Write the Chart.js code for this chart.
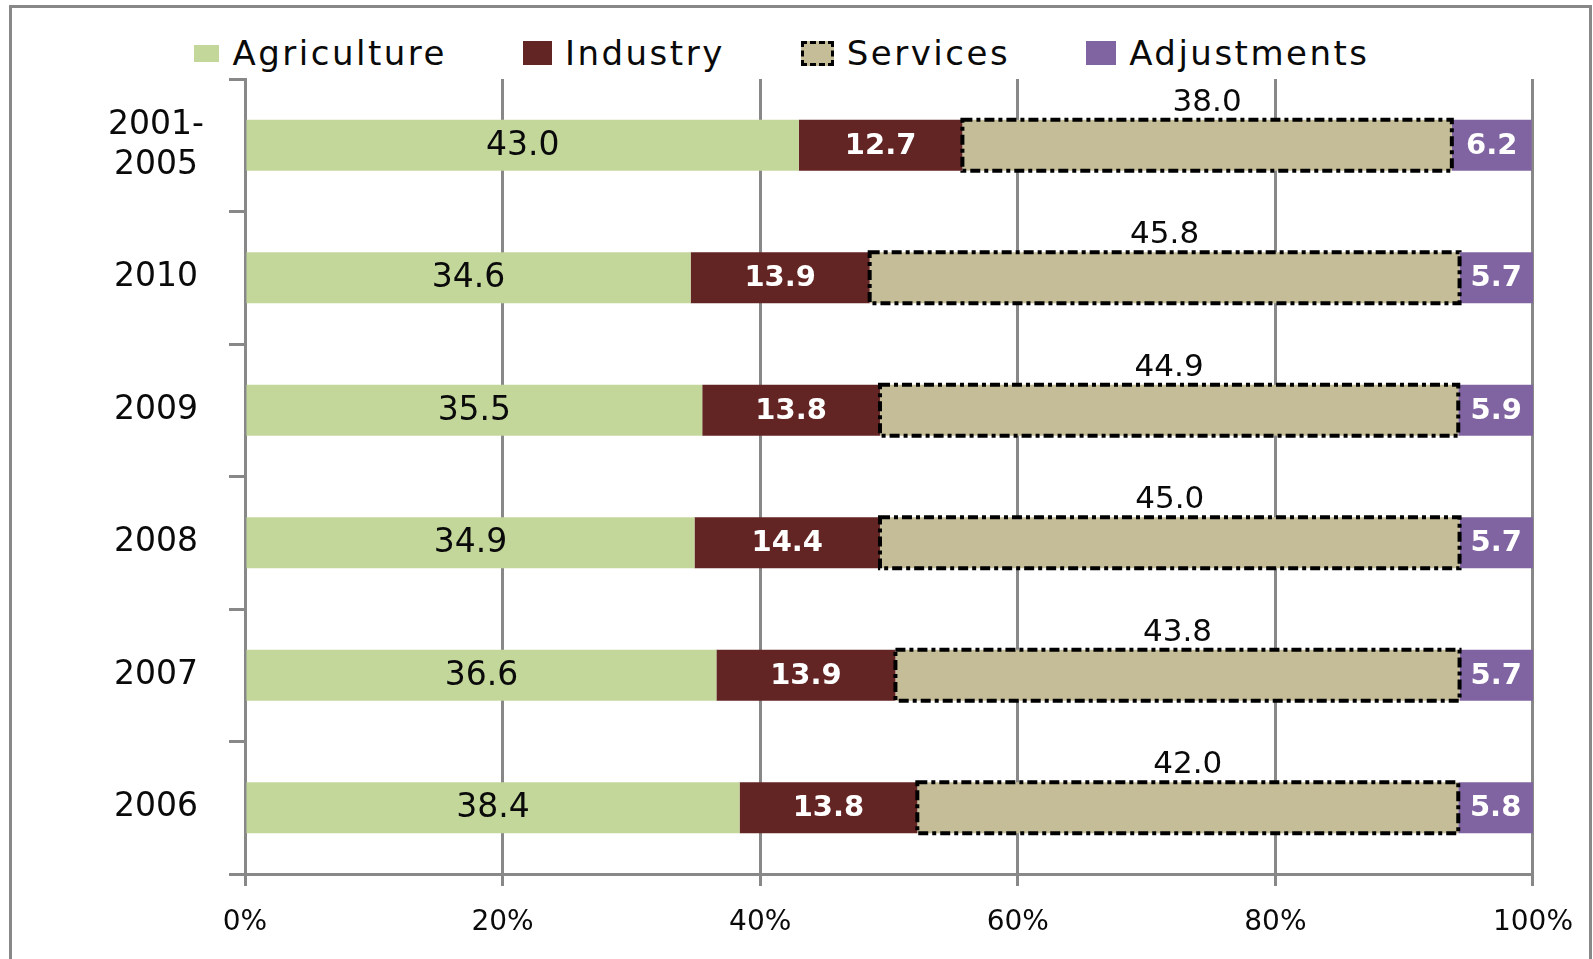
<!DOCTYPE html>
<html lang="en">
<head>
  <meta charset="UTF-8">
  <title>GDP shares by sector</title>
  <script src="https://cdn.jsdelivr.net/npm/chart.js"></script>
  <style>
    body { margin: 0; background: #fff; font-family: "DejaVu Sans", sans-serif; }
    #frame {
      position: absolute; left: 9px; top: 5px; width: 1583px; height: 1000px;
      box-sizing: border-box; border: 3px solid #888;
    }
    #legend {
      position: absolute; left: 0; top: 33px; width: 1564px; height: 40px;
      display: flex; justify-content: center; align-items: center; gap: 76px;
      font-size: 34px; letter-spacing: 2.5px; color: #0a0a0a;
    }
    #legend .item { display: flex; align-items: center; }
    #legend .box { margin-right: 13px; box-sizing: border-box; }
    #chart { position: absolute; left: 0; top: 0; }
  </style>
</head>
<body>
  <div id="frame"></div>
  <div id="legend"></div>
  <canvas id="chart" width="1593" height="959"></canvas>

  <script>
    // dados (top -> bottom)
    const categorias = [['2001-', '2005'], '2010', '2009', '2008', '2007', '2006'];
    const agriculture = [43.0, 34.6, 35.5, 34.9, 36.6, 38.4];
    const industry = [12.7, 13.9, 13.8, 14.4, 13.9, 13.8];
    const services = [38.0, 45.8, 44.9, 45.0, 43.8, 42.0];
    const adjustments = [6.2, 5.7, 5.9, 5.7, 5.7, 5.8];
    const xTicks = [0, 20, 40, 60, 80, 100];

    const series = ['Agriculture', 'Industry', 'Services', 'Adjustments'];
    const cores = ['#c4d79b', '#632523', '#c4bd97', '#8064a2'];

    // legenda em html
    const legendBoxes = [
      'width:25px;height:17px;',
      'width:29px;height:24px;',
      'width:33px;height:25px;border:3px dashed #000;',
      'width:30px;height:24px;'
    ];
    const legend = document.getElementById('legend');
    series.forEach((nome, i) => {
      const item = document.createElement('div');
      item.className = 'item';
      item.innerHTML = '<span class="box" style="background:' + cores[i] + ';' + legendBoxes[i] + '"></span><span>' + nome + '</span>';
      legend.appendChild(item);
    });

    // rotulos dos valores + borda tracejada de Services
    const barLabels = {
      id: 'barLabels',
      afterDatasetsDraw(chart) {
        const ctx = chart.ctx;
        ctx.save();
        chart.data.datasets.forEach((ds, i) => {
          const meta = chart.getDatasetMeta(i);
          meta.data.forEach((bar, j) => {
            const { x, y, base, height } = bar.getProps(['x', 'y', 'base', 'height'], true);
            const txt = ds.data[j].toFixed(1);
            const cx = (x + base) / 2;
            ctx.textAlign = 'center';
            ctx.textBaseline = 'middle';
            if (i === 1 || i === 3) {
              ctx.font = 'bold 29px "DejaVu Sans"';
              ctx.fillStyle = '#fff';
              ctx.fillText(txt, cx, y + 1);
            } else if (i === 0) {
              ctx.font = '33px "DejaVu Sans"';
              ctx.fillStyle = '#0a0a0a';
              ctx.fillText(txt, cx, y + 1);
            } else {
              ctx.font = '31px "DejaVu Sans"';
              ctx.fillStyle = '#0a0a0a';
              ctx.fillText(txt, cx, y - height / 2 - 17);
            }
          });
        });
        // Services: contorno traco-ponto
        const meta = chart.getDatasetMeta(2);
        ctx.strokeStyle = '#000';
        ctx.lineWidth = 4;
        ctx.setLineDash([10, 4, 4, 4]);
        meta.data.forEach(bar => {
          const { x, y, base, height } = bar.getProps(['x', 'y', 'base', 'height'], true);
          ctx.strokeRect(base, y - height / 2, x - base, height);
        });
        ctx.restore();
      }
    };

    const datasets = [agriculture, industry, services, adjustments].map((dados, i) => ({
      label: series[i],
      data: dados,
      backgroundColor: cores[i],
      borderWidth: 0,
      barPercentage: 0.385,
      categoryPercentage: 1
    }));

    Chart.defaults.font.family = '"DejaVu Sans", sans-serif';
    Chart.defaults.color = '#0a0a0a';

    new Chart(document.getElementById('chart'), {
      type: 'bar',
      data: { labels: categorias, datasets: datasets },
      options: {
        indexAxis: 'y',
        responsive: false,
        animation: false,
        layout: { padding: { left: 0, right: 60, top: 79, bottom: 0 } },
        plugins: { legend: { display: false }, tooltip: { enabled: false } },
        scales: {
          x: {
            stacked: true,
            min: 0,
            max: 100,
            afterBuildTicks: scale => { scale.ticks = xTicks.map(v => ({ value: v })); },
            afterFit: scale => { scale.height = 85; },
            ticks: {
              font: { size: 28 },
              padding: 20,
              maxRotation: 0,
              callback: v => v + '%'
            },
            grid: { color: '#888', lineWidth: 3, tickLength: 12 },
            border: { color: '#888', width: 3 }
          },
          y: {
            stacked: true,
            afterFit: scale => { scale.width = 245; },
            ticks: { font: { size: 33 }, padding: 25, crossAlign: 'center' },
            grid: { offset: true, drawOnChartArea: false, color: '#888', lineWidth: 3, tickLength: 16 },
            border: { color: '#888', width: 3 }
          }
        }
      },
      plugins: [barLabels]
    });
  </script>
</body>
</html>
